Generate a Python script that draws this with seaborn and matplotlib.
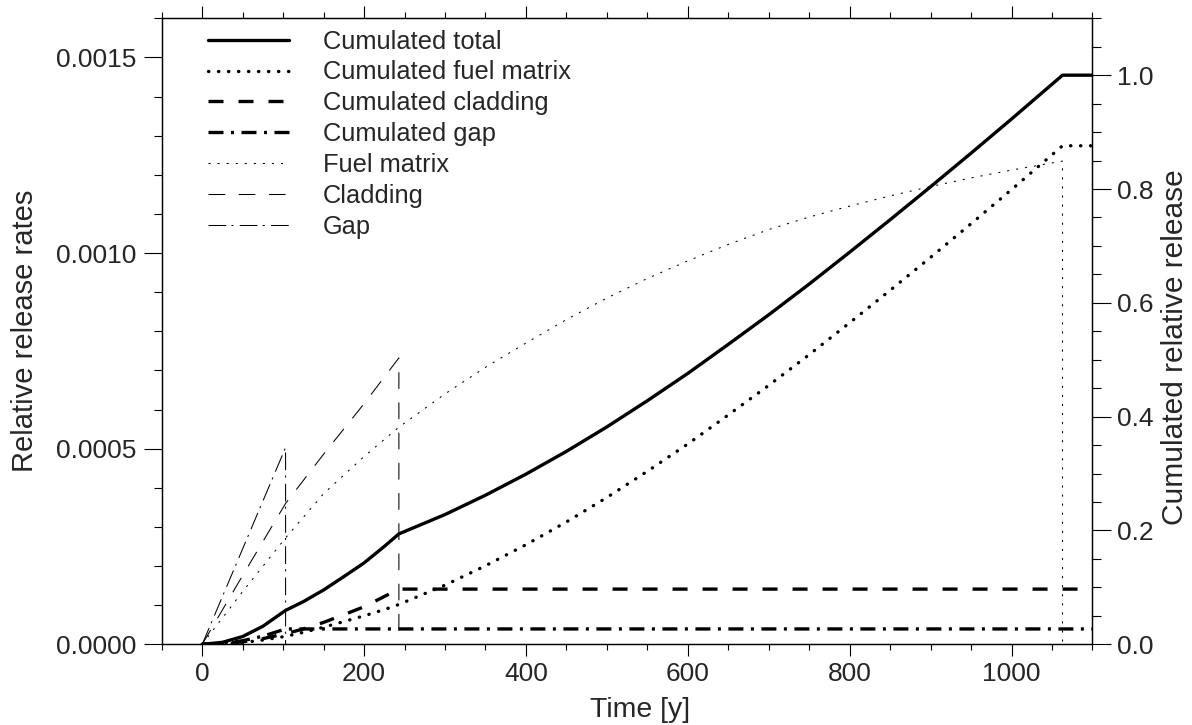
import matplotlib
matplotlib.use("Agg")
import matplotlib.pyplot as plt
from matplotlib.ticker import MultipleLocator, FormatStrFormatter
import pandas as pd
import seaborn as sns

# Cumulated relative release (right axis) sampled over time in years
years = [0, 25, 50, 75, 103, 125, 150, 175, 200, 225, 243, 300, 350, 400,
         450, 500, 550, 600, 650, 700, 750, 800, 850, 900, 950, 1000, 1063,
         1100]
cum_total = [0, 0.0035, 0.0137, 0.0317, 0.0596, 0.075, 0.0955, 0.119, 0.143,
             0.172, 0.194, 0.228, 0.262, 0.299, 0.339, 0.382, 0.428, 0.476,
             0.527, 0.579, 0.633, 0.689, 0.746, 0.804, 0.863, 0.923, 1.0, 1.0]
cum_fuel = [0, 0.0008, 0.003, 0.0075, 0.014, 0.021, 0.030, 0.040, 0.050,
            0.061, 0.070, 0.104, 0.138, 0.175, 0.215, 0.258, 0.304, 0.352,
            0.403, 0.455, 0.509, 0.565, 0.622, 0.680, 0.739, 0.799, 0.876,
            0.876]
cum_clad = [0, 0.0011, 0.0044, 0.010, 0.0186, 0.027, 0.0385, 0.052, 0.066,
            0.084, 0.097, 0.097, 0.097, 0.097, 0.097, 0.097, 0.097, 0.097,
            0.097, 0.097, 0.097, 0.097, 0.097, 0.097, 0.097, 0.097, 0.097,
            0.097]
cum_gap = [0, 0.0016, 0.0063, 0.0142, 0.027, 0.027, 0.027, 0.027, 0.027,
           0.027, 0.027, 0.027, 0.027, 0.027, 0.027, 0.027, 0.027, 0.027,
           0.027, 0.027, 0.027, 0.027, 0.027, 0.027, 0.027, 0.027, 0.027,
           0.027]

# Relative release rates (left axis); each source stops when exhausted
fuel_years = [0, 50, 103, 150, 200, 243, 300, 350, 400, 450, 500, 550, 600,
              650, 700, 750, 800, 850, 900, 950, 1000, 1063, 1063]
fuel_rate = [0, 1.35e-4, 2.72e-4, 3.85e-4, 4.80e-4, 5.55e-4, 6.40e-4,
             7.08e-4, 7.70e-4, 8.30e-4, 8.85e-4, 9.35e-4, 9.80e-4, 1.022e-3,
             1.060e-3, 1.092e-3, 1.120e-3, 1.146e-3, 1.170e-3, 1.192e-3,
             1.212e-3, 1.235e-3, 0]
clad_years = [0, 50, 103, 150, 200, 243, 243]
clad_rate = [0, 1.76e-4, 3.6e-4, 4.86e-4, 6.15e-4, 7.32e-4, 0]
gap_years = [0, 103, 103]
gap_rate = [0, 5.03e-4, 0]

label_total = "Cumulated total"
label_cfuel = "Cumulated fuel matrix"
label_cclad = "Cumulated cladding"
label_cgap = "Cumulated gap"
label_fuel = "Fuel matrix"
label_clad = "Cladding"
label_gap = "Gap"

sns.set_theme(style="ticks")
plt.rcParams["font.family"] = ["Liberation Sans", "DejaVu Sans"]
plt.rcParams["lines.scale_dashes"] = True

fig = plt.figure(figsize=(11.92, 7.25), dpi=100)
ax = fig.add_axes([0.1357, 0.1113, 0.7808, 0.8635])
ax2 = ax.twinx()

cum = pd.DataFrame({"t": years, "total": cum_total, "fuel": cum_fuel,
                    "clad": cum_clad, "gap": cum_gap})

thick = 2.4
thin = 0.75
common = dict(estimator=None, sort=False, color="black", legend=False)

sns.lineplot(data=cum, x="t", y="total", ax=ax2, lw=thick,
             linestyle="-", label=label_total, **common)
sns.lineplot(data=cum, x="t", y="fuel", ax=ax2, lw=thick,
             linestyle=(0, (0.1, 2.9)), dash_capstyle="round",
             label=label_cfuel, **common)
sns.lineplot(data=cum, x="t", y="clad", ax=ax2, lw=thick,
             linestyle=(0, (4.5, 4.5)), label=label_cclad, **common)
sns.lineplot(data=cum, x="t", y="gap", ax=ax2, lw=thick,
             linestyle=(0, (4.5, 2.25, 0.9, 2.25)), label=label_cgap, **common)

sns.lineplot(x=fuel_years, y=fuel_rate, ax=ax, lw=thin,
             linestyle=(0, (2, 6.7)), label=label_fuel, **common)
sns.lineplot(x=clad_years, y=clad_rate, ax=ax, lw=thin,
             linestyle=(0, (16, 13)), label=label_clad, **common)
sns.lineplot(x=gap_years, y=gap_rate, ax=ax, lw=thin,
             linestyle=(0, (17, 5, 2, 6)), label=label_gap, **common)

ax.set_xlim(-50, 1100)
ax.set_ylim(0, 0.0016)
ax2.set_ylim(0, 1.1)

ax.xaxis.set_major_locator(MultipleLocator(200))
ax.xaxis.set_minor_locator(MultipleLocator(50))
ax.yaxis.set_major_locator(MultipleLocator(0.0005))
ax.yaxis.set_minor_locator(MultipleLocator(0.0001))
ax.yaxis.set_major_formatter(FormatStrFormatter("%.4f"))
ax2.yaxis.set_major_locator(MultipleLocator(0.2))
ax2.yaxis.set_minor_locator(MultipleLocator(0.05))
ax2.yaxis.set_major_formatter(FormatStrFormatter("%.1f"))

tick_fs = 19
ax.tick_params(axis="x", which="major", direction="out", length=8.6,
               width=0.8, top=True, labeltop=False, labelsize=tick_fs,
               pad=4, color="black")
ax.tick_params(axis="x", which="minor", direction="out", length=4.3,
               width=0.8, top=True, color="black")
ax.tick_params(axis="y", which="major", direction="out", length=13,
               width=0.8, right=False, labelsize=tick_fs, pad=5,
               color="black")
ax.tick_params(axis="y", which="minor", direction="out", length=6,
               width=0.8, right=False, color="black")
ax2.tick_params(axis="y", which="major", direction="out", length=13.5,
                width=0.8, labelsize=tick_fs, pad=4.5, color="black")
ax2.tick_params(axis="y", which="minor", direction="out", length=6.5,
                width=0.8, color="black")

for a in (ax, ax2):
    for sp in a.spines.values():
        sp.set_color("black")
        sp.set_linewidth(0.9)

ax.set_xlabel("Time [y]", fontsize=20.5)
ax.set_ylabel("Relative release rates", fontsize=21)
ax2.set_ylabel("Cumulated relative release", fontsize=21.5)
ax.xaxis.set_label_coords(0.514, -0.084)
ax.xaxis.label.set_verticalalignment("top")
ax.yaxis.set_label_coords(-0.1464, 0.5)
ax.yaxis.label.set(rotation_mode="default", va="center", ha="center")
ax2.yaxis.set_label_coords(1.0892, 0.474)
ax2.yaxis.label.set(rotation_mode="default", va="center", ha="center")

handles = ax2.get_lines() + ax.get_lines()
labels = [h.get_label() for h in handles]
ax2.legend(handles, labels, loc="upper left", bbox_to_anchor=(0.0496, 0.982),
           frameon=False, fontsize=18.3, handlelength=3.2, handletextpad=1.33,
           labelspacing=0.27, borderpad=0, borderaxespad=0)

fig.savefig("out.png", dpi=100, facecolor="white")
